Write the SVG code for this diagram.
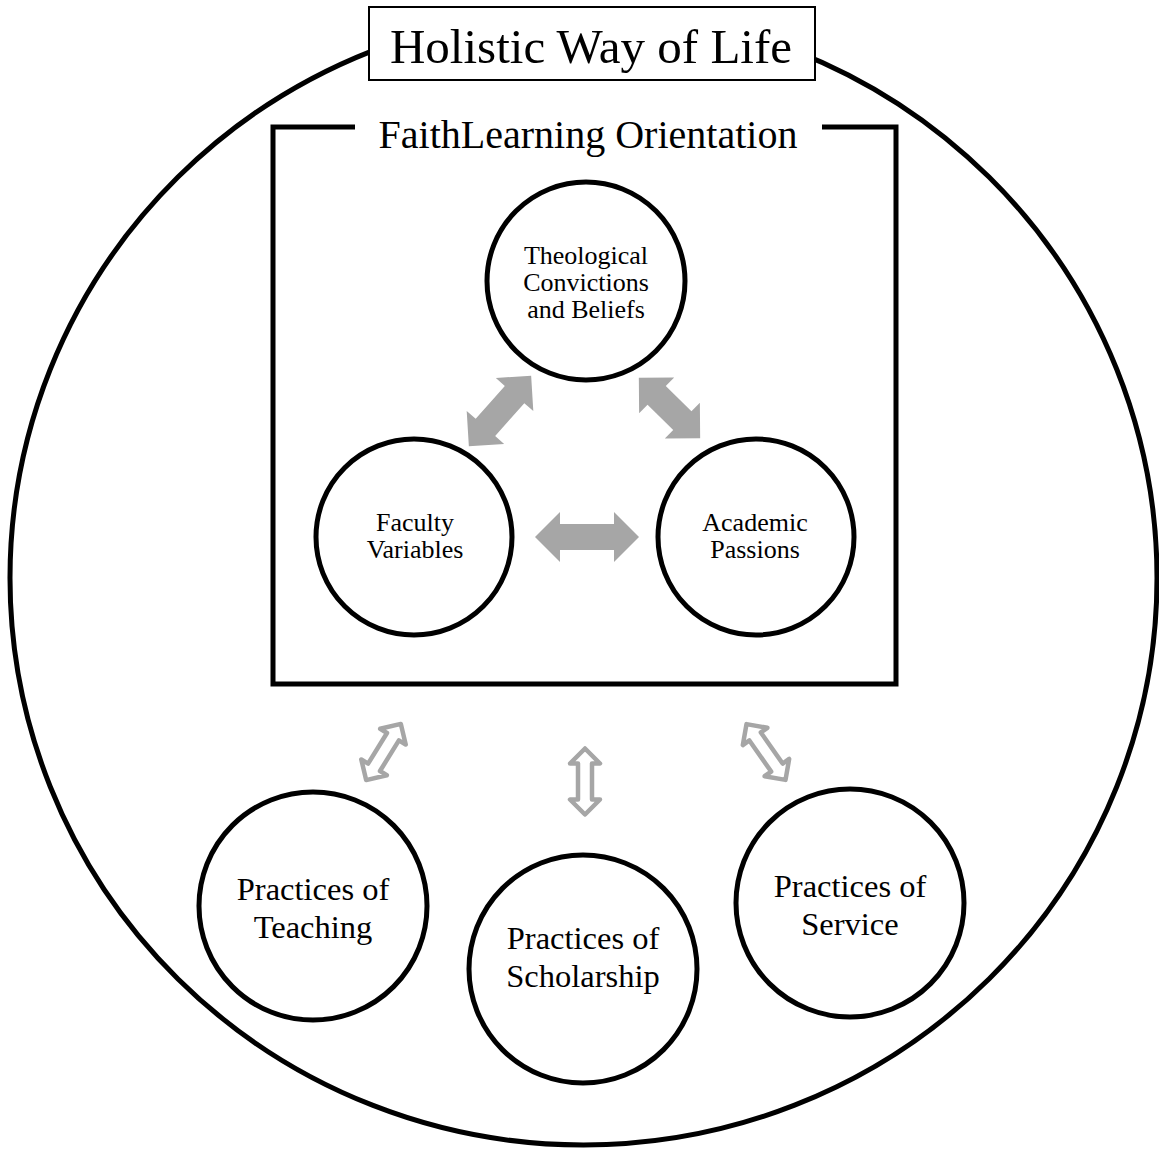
<svg xmlns="http://www.w3.org/2000/svg" width="1159" height="1149" viewBox="0 0 1159 1149">
<style>
.ln{fill:none;stroke:#000;stroke-width:5}
.nd{fill:#fff;stroke:#000;stroke-width:5}
.t{font-family:"Liberation Serif","Times New Roman",serif;fill:#000;text-anchor:middle}
.s{font-size:26px}
.m{font-size:32.5px}
.thick{fill:#a6a6a6;stroke:none}
.hollow{fill:#fff;stroke:#a6a6a6;stroke-width:4.5;stroke-linejoin:round}
</style>
<rect width="1159" height="1149" fill="#fff"/>
<g id="outer">
<ellipse class="ln" cx="583.5" cy="578" rx="573.5" ry="567"/>
</g>
<g id="title">
<rect x="369" y="7" width="446" height="73" fill="#fff" stroke="#000" stroke-width="2"/>
<text class="t" x="591" y="63" font-size="49">Holistic Way of Life</text>
</g>
<g id="orientation">
<path class="ln" d="M355,127 H273 V684 H896 V127 H822"/>
<text class="t" x="588" y="148" font-size="40">FaithLearning Orientation</text>
</g>
<g id="connectors">
<path class="thick" transform="translate(587,537)" d="M-52,0 L-27,-25 L-27,-13 L27,-13 L27,-25 L52,0 L27,25 L27,13 L-27,13 L-27,25 Z"/>
<path class="thick" transform="translate(500,411) rotate(-48.5)" d="M-47,0 L-22,-25 L-22,-13 L22,-13 L22,-25 L47,0 L22,25 L22,13 L-22,13 L-22,25 Z"/>
<path class="thick" transform="translate(669.5,408) rotate(44.5)" d="M-43,0 L-18,-25 L-18,-13 L18,-13 L18,-25 L43,0 L18,25 L18,13 L-18,13 L-18,25 Z"/>
<path class="hollow" transform="translate(383.5,752) rotate(-58.3)" d="M-33,0 L-18,-15 L-18,-7 L18,-7 L18,-15 L33,0 L18,15 L18,7 L-18,7 L-18,15 Z"/>
<path class="hollow" transform="translate(585,781.5) rotate(90)" d="M-33,0 L-18,-15 L-18,-7 L18,-7 L18,-15 L33,0 L18,15 L18,7 L-18,7 L-18,15 Z"/>
<path class="hollow" transform="translate(766,752) rotate(55)" d="M-34,0 L-19,-15 L-19,-7 L19,-7 L19,-15 L34,0 L19,15 L19,7 L-19,7 L-19,15 Z"/>
</g>
<g id="theological">
<circle class="nd" cx="586" cy="281" r="99"/>
<text class="t s" x="586" y="264">Theological</text>
<text class="t s" x="586" y="291">Convictions</text>
<text class="t s" x="586" y="318">and Beliefs</text>
</g>
<g id="faculty">
<circle class="nd" cx="414" cy="537" r="98"/>
<text class="t s" x="415" y="531">Faculty</text>
<text class="t s" x="415" y="558">Variables</text>
</g>
<g id="academic">
<circle class="nd" cx="756" cy="537" r="98"/>
<text class="t s" x="755" y="531">Academic</text>
<text class="t s" x="755" y="558">Passions</text>
</g>
<g id="teaching">
<circle class="nd" cx="313" cy="906" r="114"/>
<text class="t m" x="313" y="900">Practices of</text>
<text class="t m" x="313" y="938">Teaching</text>
</g>
<g id="scholarship">
<circle class="nd" cx="583" cy="969" r="114"/>
<text class="t m" x="583" y="949">Practices of</text>
<text class="t m" x="583" y="987">Scholarship</text>
</g>
<g id="service">
<circle class="nd" cx="850" cy="903" r="114"/>
<text class="t m" x="850" y="897">Practices of</text>
<text class="t m" x="850" y="935">Service</text>
</g>
</svg>
